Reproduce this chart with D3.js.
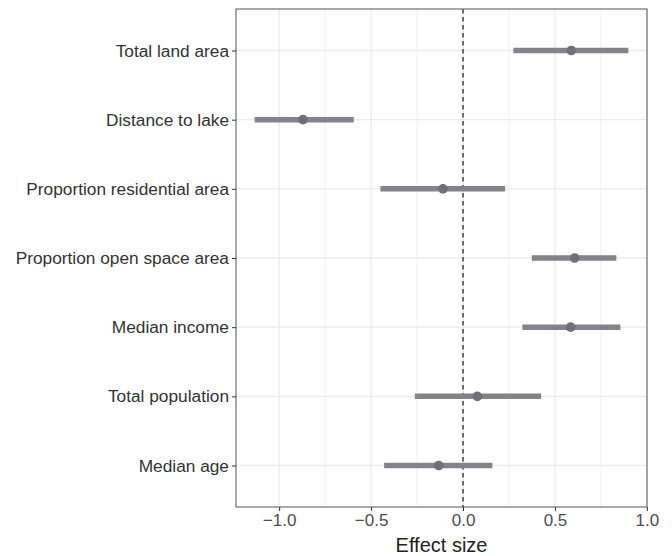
<!DOCTYPE html>
<html>
<head>
<meta charset="utf-8">
<script src="https://cdn.jsdelivr.net/npm/d3@7"></script>
<style>
  body { margin: 0; background: #fff; }
  text { font-family: "Liberation Sans", Arial, sans-serif; }
</style>
</head>
<body>
<div id="chart"></div>
<script>
var width = 672, height = 556,
    margin = {top: 9, right: 25, bottom: 49, left: 236};

// predictors, top to bottom
var predictors = ["Total land area", "Distance to lake", "Proportion residential area",
  "Proportion open space area", "Median income", "Total population", "Median age"];
var estimate = [0.589, -0.870, -0.109, 0.607, 0.585, 0.078, -0.132];
var lower    = [0.274, -1.133, -0.449, 0.374, 0.323, -0.262, -0.429];
var upper    = [0.899, -0.594, 0.229, 0.834, 0.856, 0.425, 0.160];
var xTicks = [-1, -0.5, 0, 0.5, 1];
var xMinor = [-0.75, -0.25, 0.25, 0.75];

var rows = predictors.map(function(p, i) {
  return {name: p, est: estimate[i], lo: lower[i], hi: upper[i]};
});

var svg = d3.select("#chart")
  .append("svg")
    .attr("width", width)
    .attr("height", height);

var pw = width - margin.left - margin.right,
    ph = height - margin.top - margin.bottom;

var g = svg.append("g")
    .attr("transform", "translate(" + margin.left + "," + margin.top + ")");

// ggplot style 5% expansion of the data range
var lo = d3.min(lower), hi = d3.max(upper), pad = (hi - lo) * 0.05;
var x = d3.scaleLinear().domain([lo - pad, hi + pad]).range([0, pw]);

var y = d3.scalePoint().domain(predictors).range([0, ph]).padding(0.6);

// grid
g.selectAll(".minor").data(xMinor).enter().append("line")
  .attr("x1", x).attr("x2", x).attr("y1", 0).attr("y2", ph)
  .style("stroke", "#f0f0f0").style("stroke-width", 1);
g.selectAll(".vmajor").data(xTicks).enter().append("line")
  .attr("x1", x).attr("x2", x).attr("y1", 0).attr("y2", ph)
  .style("stroke", "#ebebeb").style("stroke-width", 1.3);
g.selectAll(".hmajor").data(predictors).enter().append("line")
  .attr("x1", 0).attr("x2", pw).attr("y1", y).attr("y2", y)
  .style("stroke", "#ebebeb").style("stroke-width", 1.3);

// zero line
g.append("line")
  .attr("x1", x(0)).attr("x2", x(0)).attr("y1", 0).attr("y2", ph)
  .style("stroke", "#000").style("stroke-width", 1.1)
  .style("stroke-dasharray", "4.5,3.5");

// intervals
g.selectAll(".ci").data(rows).enter().append("line")
  .attr("x1", function(d){ return x(d.lo); })
  .attr("x2", function(d){ return x(d.hi); })
  .attr("y1", function(d){ return y(d.name); })
  .attr("y2", function(d){ return y(d.name); })
  .style("stroke", "#838389").style("stroke-width", 5.5);

g.selectAll(".pt").data(rows).enter().append("circle")
  .attr("cx", function(d){ return x(d.est); })
  .attr("cy", function(d){ return y(d.name); })
  .attr("r", 4.8)
  .style("fill", "#6f6f75");

// panel border
g.append("rect")
  .attr("width", pw).attr("height", ph)
  .style("fill", "none").style("stroke", "#6e6e6e").style("stroke-width", 1.2);

// axes
var xAxis = g.append("g")
  .attr("transform", "translate(0," + ph + ")")
  .call(d3.axisBottom(x).tickValues(xTicks).tickSize(4).tickPadding(3)
    .tickFormat(function(d){ return d3.format(".1f")(d).replace("-", "\u2212"); }));
xAxis.select(".domain").remove();
xAxis.selectAll("line").style("stroke", "#333");
xAxis.selectAll("text").style("font-size", "17px").style("fill", "#4d4d4d")
  .style("font-family", "'Liberation Sans', Arial, sans-serif");

var yAxis = g.append("g")
  .call(d3.axisLeft(y).tickSize(4).tickPadding(3));
yAxis.select(".domain").remove();
yAxis.selectAll("line").style("stroke", "#333");
yAxis.selectAll("text").style("font-size", "17.3px").style("fill", "#333")
  .style("font-family", "'Liberation Sans', Arial, sans-serif");

svg.append("text")
  .attr("x", margin.left + pw / 2)
  .attr("y", height - 4)
  .attr("text-anchor", "middle")
  .style("font-size", "20px")
  .style("fill", "#222")
  .text("Effect size");
</script>
</body>
</html>
